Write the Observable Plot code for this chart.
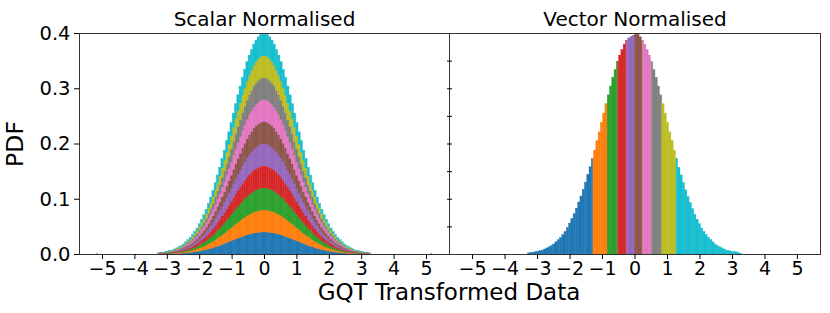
<!DOCTYPE html>
<html>
<head>
<meta charset="utf-8">
<script src="https://cdn.jsdelivr.net/npm/d3@7"></script>
<script src="https://cdn.jsdelivr.net/npm/@observablehq/plot@0.6"></script>
<style>
  html, body { margin: 0; padding: 0; background: #fff; }
  #chart { position: relative; width: 830px; height: 313px; font-family: "DejaVu Sans", sans-serif; color: #000; overflow: hidden; }
  #left, #right { position: absolute; top: 0; }
  #left { left: 0; }
  #right { left: 440px; }
  #xlabel { position: absolute; left: 0; width: 898px; top: 281px; text-align: center; font-size: 23px; line-height: 23px; }
</style>
</head>
<body>
<div id="chart">
  <div id="left"></div>
  <div id="right"></div>
  <div id="xlabel">GQT Transformed Data</div>
</div>
<script>
// ---------- data ----------
const binCenters = [
  -3.255, -3.185, -3.115, -3.045, -2.975, -2.905, -2.835, -2.765, -2.695, -2.625,
  -2.555, -2.485, -2.415, -2.345, -2.275, -2.205, -2.135, -2.065, -1.995, -1.925,
  -1.855, -1.785, -1.715, -1.645, -1.575, -1.505, -1.435, -1.365, -1.295, -1.225,
  -1.155, -1.085, -1.015, -0.945, -0.875, -0.805, -0.735, -0.665, -0.595, -0.525,
  -0.455, -0.385, -0.315, -0.245, -0.175, -0.105, -0.035,
  0.035, 0.105, 0.175, 0.245, 0.315, 0.385, 0.455, 0.525, 0.595, 0.665,
  0.735, 0.805, 0.875, 0.945, 1.015, 1.085, 1.155, 1.225, 1.295, 1.365,
  1.435, 1.505, 1.575, 1.645, 1.715, 1.785, 1.855, 1.925, 1.995, 2.065,
  2.135, 2.205, 2.275, 2.345, 2.415, 2.485, 2.555, 2.625, 2.695, 2.765,
  2.835, 2.905, 2.975, 3.045, 3.115, 3.185, 3.255
];
const binWidth = 0.07;

// Scalar normalised: ten stacked series, each with this per-series density
const scalarSeries = ["s1", "s2", "s3", "s4", "s5", "s6", "s7", "s8", "s9", "s10"];
const scalarDensity = [
  0.0002, 0.0003, 0.0003, 0.0004, 0.0005, 0.0006, 0.0007, 0.0009, 0.0011, 0.0013,
  0.0015, 0.0018, 0.0022, 0.0026, 0.0030, 0.0035, 0.0041, 0.0047, 0.0055, 0.0063,
  0.0071, 0.0081, 0.0092, 0.0103, 0.0115, 0.0129, 0.0143, 0.0157, 0.0173, 0.0188,
  0.0205, 0.0221, 0.0238, 0.0255, 0.0272, 0.0288, 0.0304, 0.0320, 0.0334, 0.0348,
  0.0360, 0.0370, 0.0380, 0.0387, 0.0393, 0.0397, 0.0399,
  0.0399, 0.0397, 0.0393, 0.0387, 0.0380, 0.0370, 0.0360, 0.0348, 0.0334, 0.0320,
  0.0304, 0.0288, 0.0272, 0.0255, 0.0238, 0.0221, 0.0205, 0.0188, 0.0173, 0.0157,
  0.0143, 0.0129, 0.0115, 0.0103, 0.0092, 0.0081, 0.0071, 0.0063, 0.0055, 0.0047,
  0.0041, 0.0035, 0.0030, 0.0026, 0.0022, 0.0018, 0.0015, 0.0013, 0.0011, 0.0009,
  0.0007, 0.0006, 0.0005, 0.0004, 0.0003, 0.0003, 0.0002
];
const outlierX = [-5.15, 5.15];
const outlierY = [0.0015, 0.0015];

// Vector normalised: one histogram, coloured by decile segment
const vectorDensity = [
  0.002, 0.003, 0.003, 0.004, 0.005, 0.006, 0.007, 0.009, 0.011, 0.013,
  0.015, 0.018, 0.022, 0.026, 0.030, 0.035, 0.041, 0.048, 0.056, 0.064,
  0.073, 0.083, 0.094, 0.105, 0.117, 0.130, 0.144, 0.158, 0.173, 0.188,
  0.205, 0.221, 0.238, 0.255, 0.272, 0.288, 0.304, 0.320, 0.334, 0.348,
  0.360, 0.370, 0.380, 0.387, 0.391, 0.394, 0.396,
  0.399, 0.398, 0.393, 0.387, 0.380, 0.370, 0.360, 0.348, 0.334, 0.320,
  0.304, 0.288, 0.272, 0.255, 0.238, 0.221, 0.205, 0.188, 0.173, 0.157,
  0.143, 0.129, 0.116, 0.104, 0.093, 0.082, 0.072, 0.063, 0.055, 0.047,
  0.041, 0.035, 0.030, 0.026, 0.022, 0.018, 0.015, 0.013, 0.011, 0.009,
  0.007, 0.006, 0.005, 0.004, 0.004, 0.003, 0.001
];
const decileEdges = [-1.28, -0.84, -0.52, -0.25, 0, 0.25, 0.52, 0.84, 1.28];
const decileNames = ["d1", "d2", "d3", "d4", "d5", "d6", "d7", "d8", "d9", "d10"];

const xTicks = [-5, -4, -3, -2, -1, 0, 1, 2, 3, 4, 5];
const yTicksLeft = [0, 0.1, 0.2, 0.3, 0.4];
const yTicksRight = [0.05, 0.1, 0.15, 0.2, 0.25, 0.3, 0.35];
const titles = ["Scalar Normalised", "Vector Normalised"];

// ---------- tables ----------
const tab10 = d3.schemeCategory10;
const scalarRows = [];
scalarSeries.forEach(s => binCenters.forEach((c, i) => {
  scalarRows.push({series: s, x1: c - binWidth / 2, x2: c + binWidth / 2, y: scalarDensity[i]});
}));
const outlierRows = outlierX.map((x, i) => ({x1: x - binWidth / 2, x2: x + binWidth / 2, y: outlierY[i]}));

const segBounds = [-Infinity, ...decileEdges, Infinity];
const vectorRows = [];
binCenters.forEach((c, i) => {
  const a = c - binWidth / 2, b = c + binWidth / 2;
  for (let s = 0; s < decileNames.length; s++) {
    const lo = Math.max(a, segBounds[s]), hi = Math.min(b, segBounds[s + 1]);
    if (hi > lo) vectorRows.push({seg: decileNames[s], x1: lo, x2: hi, y: vectorDensity[i]});
  }
});

const xDomain = [-5.71, 5.71];
const common = {
  height: 313, marginTop: 33, marginBottom: 59,
  style: {background: "transparent", overflow: "visible", fontFamily: "DejaVu Sans", fontSize: "19px", color: "#000"}
};

const leftPlot = Plot.plot({
  ...common,
  width: 450, marginLeft: 79, marginRight: 1,
  x: {domain: xDomain},
  y: {domain: [0, 0.4]},
  color: {domain: scalarSeries, range: tab10},
  marks: [
    Plot.rectY(scalarRows, {x1: "x1", x2: "x2", y: "y", fill: "series", stroke: "series", strokeWidth: 0.4}),
    Plot.rectY(outlierRows, {x1: "x1", x2: "x2", y1: 0, y2: "y", fill: tab10[6]}),
    Plot.frame({stroke: "#333", strokeWidth: 1}),
    Plot.axisX({ticks: xTicks, tickFormat: d3.format("d"), tickSize: 5, tickPadding: 2, label: null}),
    Plot.axisY({ticks: yTicksLeft, tickFormat: d3.format(".1f"), tickSize: 5, tickPadding: 4, label: null, fontSize: 19.5}),
    Plot.text([titles[0]], {text: d => d, frameAnchor: "top", lineAnchor: "top", dy: -22, fontSize: 20}),
    Plot.text(["PDF"], {text: d => d, frameAnchor: "left", textAnchor: "middle", lineAnchor: "middle", dx: -64, rotate: -90, fontSize: 23.5})
  ]
});

const rightPlot = Plot.plot({
  ...common,
  width: 390, marginLeft: 9, marginRight: 10,
  x: {domain: xDomain},
  y: {domain: [0, 0.4]},
  color: {domain: decileNames, range: tab10},
  marks: [
    Plot.rectY(vectorRows, {x1: "x1", x2: "x2", y1: 0, y2: "y", fill: "seg", stroke: "seg", strokeWidth: 0.4}),
    Plot.frame({stroke: "#333", strokeWidth: 1}),
    Plot.axisX({ticks: xTicks, tickFormat: d3.format("d"), tickSize: 5, tickPadding: 2, label: null}),
    Plot.axisY({ticks: yTicksRight, tickFormat: () => "", tickSize: 5, dx: 3, label: null}),
    Plot.text([titles[1]], {text: d => d, frameAnchor: "top", lineAnchor: "top", dy: -22, fontSize: 20})
  ]
});

document.getElementById("left").appendChild(leftPlot);
document.getElementById("right").appendChild(rightPlot);
</script>
</body>
</html>
